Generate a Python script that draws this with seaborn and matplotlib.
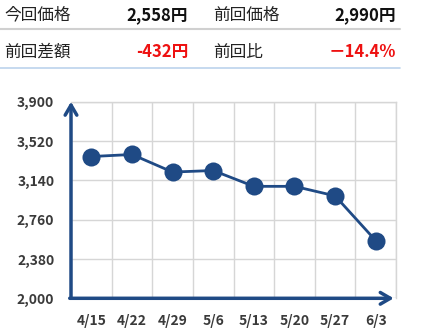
import matplotlib
matplotlib.use("Agg")
import matplotlib.pyplot as plt
import seaborn as sns
import pandas as pd
from matplotlib.lines import Line2D

dates = ["4/15", "4/22", "4/29", "5/6", "5/13", "5/20", "5/27", "6/3"]
prices = [3370, 3390, 3220, 3235, 3082, 3082, 2990, 2558]
yticks = [2000, 2380, 2760, 3140, 3520, 3900]

header_labels = ["今回価格", "前回価格", "前回差額", "前回比"]
header_values = ["2,558円", "2,990円", "-432円", "－14.4%"]

sns.set_theme(style="white")
plt.rcParams['font.family'] = ['Noto Sans CJK JP', 'DejaVu Sans']

navy = "#1f4a85"
grid_c = "#d6d6d6"
tick_c = "#3a3a3a"

fig = plt.figure(figsize=(4.28, 3.34), dpi=100)
ax = fig.add_axes([71/428, 1-298.3/334, (396-71)/428, (298.3-101.7)/334])

df = pd.DataFrame({"date": dates, "price": prices})
df["pos"] = range(len(dates))
sns.lineplot(data=df, x="pos", y="price", ax=ax, color=navy, lw=2,
             marker="o", markersize=13, markeredgewidth=0, zorder=5)

ax.set_xlim(-0.5, len(dates) - 0.5)
ax.set_ylim(yticks[0], yticks[-1])
ax.set_xticks(range(len(dates)))
ax.set_xticklabels(dates)
ax.set_xticks([i - 0.5 for i in range(len(dates) + 1)], minor=True)
ax.set_yticks(yticks)
ax.set_yticklabels([f"{v:,}" for v in yticks])
ax.grid(False)
ax.grid(True, which="minor", axis="x", color=grid_c, lw=1)
ax.grid(True, which="major", axis="y", color=grid_c, lw=1)
ax.set_xlabel("")
ax.set_ylabel("")
for s in ["left", "bottom"]:
    ax.spines[s].set_visible(False)
for s in ["top", "right"]:
    ax.spines[s].set_color(grid_c)
    ax.spines[s].set_linewidth(1)
ax.tick_params(axis="both", which="both", length=0, labelcolor=tick_c, labelsize=10)
ax.tick_params(axis="y", pad=12)
ax.tick_params(axis="x", pad=11)
for lab in ax.get_xticklabels() + ax.get_yticklabels():
    lab.set_fontweight("bold")

# arrow spines
ax.annotate("", xy=(0, 1.0), xytext=(0, 0), xycoords="axes fraction",
            arrowprops=dict(arrowstyle="->,head_length=0.6,head_width=0.35",
                            color=navy, lw=2.5, shrinkA=0, shrinkB=0),
            annotation_clip=False, zorder=6)
ax.annotate("", xy=(0.993, 0), xytext=(-0.004, 0), xycoords="axes fraction",
            arrowprops=dict(arrowstyle="->,head_length=0.6,head_width=0.35",
                            color=navy, lw=2.5, shrinkA=0, shrinkB=0),
            annotation_clip=False, zorder=6)

# header table
H = 334
W = 428
def fy(py):
    return 1 - py / H
row_y = [15, 52]
lab_x = [4, 213]
val_x = [188, 396]
for i in range(4):
    r, c = divmod(i, 2)
    fig.text(lab_x[c] / W, fy(row_y[r]), header_labels[i], ha="left", va="center",
             fontsize=12, color="#222222")
    color = "#111111" if r == 0 else "#ee1111"
    fig.text(val_x[c] / W, fy(row_y[r]), header_values[i], ha="right", va="center",
             fontsize=12, color=color, fontweight="bold")
fig.add_artist(Line2D([0, 400 / W], [fy(28.5), fy(28.5)], color="#d0d0d0", lw=1.5))
fig.add_artist(Line2D([0, 400 / W], [fy(68), fy(68)], color="#bcd3ec", lw=1.2))

fig.savefig("out.png", dpi=100)
